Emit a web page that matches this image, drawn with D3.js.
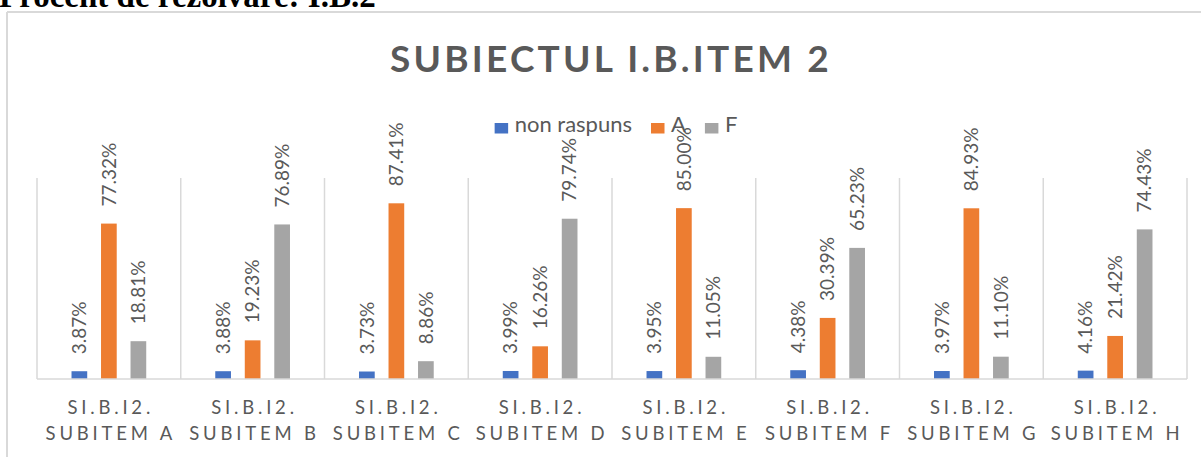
<!DOCTYPE html>
<html>
<head>
<meta charset="utf-8">
<script src="https://cdn.jsdelivr.net/npm/d3@7"></script>
<style>
  html, body { margin: 0; padding: 0; background: #fff; }
  svg { display: block; }
</style>
</head>
<body>
<svg id="chart" width="1201" height="457"></svg>
<script>
// Category names (two lines each) and the three answer series, in percent.
const categories = [
  "SI.B.I2. SUBITEM A", "SI.B.I2. SUBITEM B", "SI.B.I2. SUBITEM C", "SI.B.I2. SUBITEM D",
  "SI.B.I2. SUBITEM E", "SI.B.I2. SUBITEM F", "SI.B.I2. SUBITEM G", "SI.B.I2. SUBITEM H"
];
const seriesNames = ["non raspuns", "A", "F"];
const nonRaspuns = [3.87, 3.88, 3.73, 3.99, 3.95, 4.38, 3.97, 4.16];
const answerA = [77.32, 19.23, 87.41, 16.26, 85.00, 30.39, 84.93, 21.42];
const answerF = [18.81, 76.89, 8.86, 79.74, 11.05, 65.23, 11.10, 74.43];
const seriesValues = [nonRaspuns, answerA, answerF];
const seriesColors = ["#4472C4", "#ED7D31", "#A5A5A5"];
const heading = "Procent de rezolvare: I.B.2";
const chartTitle = "SUBIECTUL I.B.ITEM 2";

const svg = d3.select("#chart");
const textColor = "#595959";
const lineColor = "#D9D9D9";
const font = "Lato, 'Liberation Sans', sans-serif";

const plot = { left: 37, right: 1187, top: 178, bottom: 379 };

// Heading above the chart frame
svg.append("text")
  .attr("x", -1).attr("y", 7)
  .attr("font-family", "'Liberation Serif', 'Times New Roman', serif")
  .attr("font-weight", "bold").attr("font-size", 33)
  .attr("fill", "#000").text(heading);

// Chart frame (top and left edges visible)
svg.append("line").attr("x1", 7).attr("x2", 1201).attr("y1", 12).attr("y2", 12)
  .attr("stroke", lineColor).attr("stroke-width", 2);
svg.append("line").attr("x1", 7).attr("x2", 7).attr("y1", 12).attr("y2", 457)
  .attr("stroke", lineColor).attr("stroke-width", 2);

// Scales
const x0 = d3.scaleBand().domain(categories).range([plot.left, plot.right]).padding(0);
const x1 = d3.scaleBand().domain(seriesNames).range([0, x0.bandwidth()])
  .paddingInner(0.468).paddingOuter(1.17);
const y = d3.scaleLinear().domain([0, 100]).range([plot.bottom, plot.top]);

// Vertical category separators
const bounds = categories.map(c => x0(c)).concat([plot.right]);
svg.append("g").selectAll("line").data(bounds).join("line")
  .attr("x1", d => d).attr("x2", d => d)
  .attr("y1", plot.top).attr("y2", plot.bottom)
  .attr("stroke", lineColor).attr("stroke-width", 1.5);

// Bars
const groups = svg.append("g").selectAll("g").data(categories).join("g")
  .attr("transform", d => `translate(${x0(d)},0)`);

groups.each(function (cat, ci) {
  const g = d3.select(this);
  seriesNames.forEach((s, si) => {
    const v = seriesValues[si][ci];
    g.append("rect")
      .attr("x", x1(s)).attr("width", x1.bandwidth())
      .attr("y", y(v)).attr("height", y(0) - y(v))
      .attr("fill", seriesColors[si]);
    const cx = x1(s) + x1.bandwidth() / 2;
    g.append("text")
      .attr("transform", `translate(${cx},${y(v) - 17}) rotate(-90)`)
      .attr("dy", "0.35em")
      .attr("text-anchor", "start")
      .attr("font-family", font).attr("font-size", 19)
      .attr("fill", textColor)
      .text(v.toFixed(2) + "%");
  });
});

// Baseline
svg.append("line").attr("x1", plot.left).attr("x2", plot.right)
  .attr("y1", plot.bottom).attr("y2", plot.bottom)
  .attr("stroke", lineColor).attr("stroke-width", 1.5);

// Category labels (two lines)
const catLabels = svg.append("g").selectAll("text").data(categories).join("text")
  .attr("text-anchor", "middle")
  .attr("font-family", font).attr("font-size", 18.5)
  .attr("letter-spacing", 3.8)
  .attr("fill", textColor);
catLabels.each(function (d) {
  const cut = d.indexOf(" ");
  const lines = [d.slice(0, cut), d.slice(cut + 1)];
  const cx = x0(d) + x0.bandwidth() / 2 + 1.9;
  d3.select(this).selectAll("tspan").data(lines).join("tspan")
    .attr("x", cx).attr("y", (l, i) => 414 + i * 26)
    .text(l => l);
});

// Title
svg.append("text")
  .attr("x", 611).attr("y", 72)
  .attr("text-anchor", "middle")
  .attr("font-family", font).attr("font-weight", "bold").attr("font-size", 37)
  .attr("letter-spacing", 3.2)
  .attr("fill", textColor).text(chartTitle);

// Legend
const legend = svg.append("g");
let lx = 0;
seriesNames.forEach((s, i) => {
  const item = legend.append("g").attr("transform", `translate(${lx},0)`);
  item.append("rect").attr("x", 0).attr("y", 123).attr("width", 13.5).attr("height", 10.5)
    .attr("fill", seriesColors[i]);
  const t = item.append("text").attr("x", 20).attr("y", 132)
    .attr("font-family", font).attr("font-size", 22)
    .attr("fill", textColor).text(s);
  lx += 20 + t.node().getComputedTextLength() + 19;
});
const legendWidth = lx - 19;
legend.attr("transform", `translate(${616 - legendWidth / 2},0)`);
</script>
</body>
</html>
